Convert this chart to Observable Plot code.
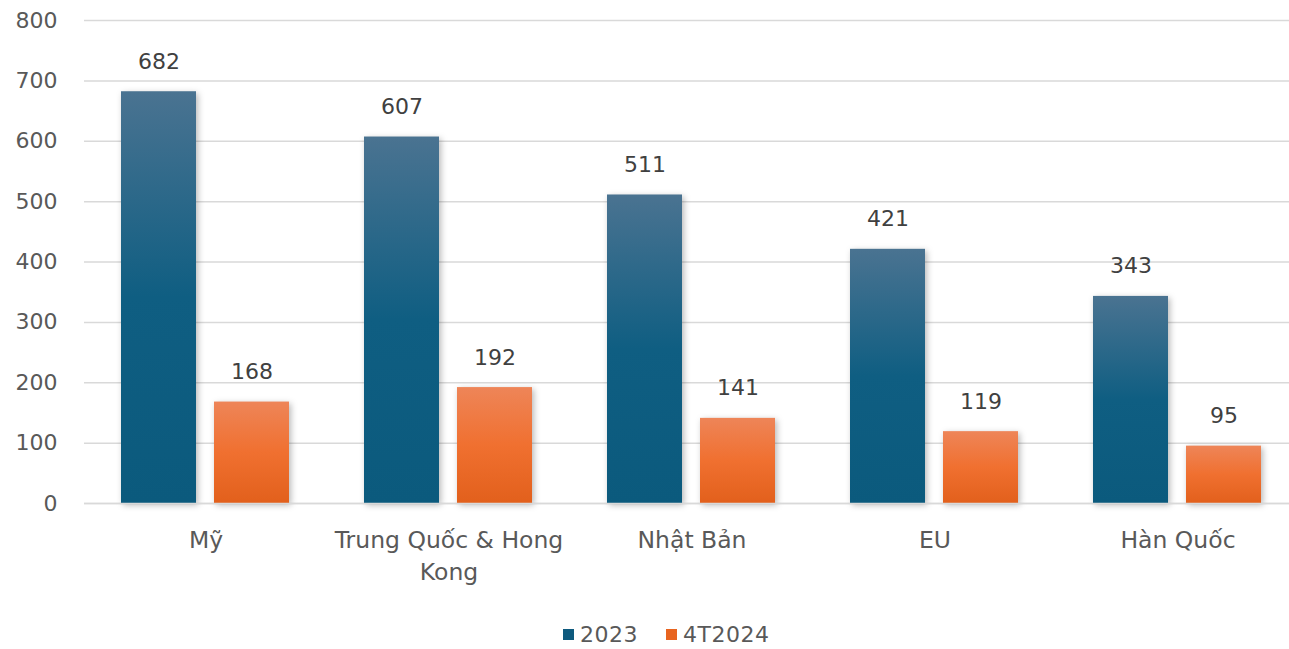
<!DOCTYPE html>
<html><head><meta charset="utf-8">
<script src="https://cdn.jsdelivr.net/npm/d3@7"></script>
<script src="https://cdn.jsdelivr.net/npm/@observablehq/plot@0.6"></script>
<style>
body{margin:0;background:#fff;font-family:"DejaVu Sans",sans-serif}
#legend{height:44px;display:flex;align-items:center;padding-left:563px;padding-top:14px;box-sizing:border-box;font-size:22px;color:#595959}
#legend span.sw{display:inline-block;width:11px;height:11px;margin-right:6px}
#legend span.item{display:inline-flex;align-items:center;letter-spacing:0.5px}
g[aria-label="bar"] rect{filter:drop-shadow(2px 2px 3px rgba(0,0,0,0.28))}
</style>
</head><body><div id="chart"></div><div id="legend"></div>
<script>
const categories = ["Mỹ","Trung Quốc & Hong Kong","Nhật Bản","EU","Hàn Quốc"];
const categoryLabels = ["Mỹ","Trung Quốc & Hong\nKong","Nhật Bản","EU","Hàn Quốc"];
const series = ["2023","4T2024"];
const values2023 = [682,607,511,421,343];
const values4T2024 = [168,192,141,119,95];
const yTicks = [0,100,200,300,400,500,600,700,800];
const seriesColors = ["#0e5a7e","#e8641f"];

const data = categories.flatMap((c,i)=>[
  {category:c, series:series[0], value:values2023[i]},
  {category:c, series:series[1], value:values4T2024[i]}
]);

const defs = () => {
  const d = d3.create("svg:defs");
  const g1 = d.append("linearGradient").attr("id","gBlue").attr("x1",0).attr("y1",0).attr("x2",0).attr("y2",1);
  g1.append("stop").attr("offset","0%").attr("stop-color","#4a7391");
  g1.append("stop").attr("offset","50%").attr("stop-color","#0f5e82");
  g1.append("stop").attr("offset","100%").attr("stop-color","#0b5a7d");
  const g2 = d.append("linearGradient").attr("id","gOrange").attr("x1",0).attr("y1",0).attr("x2",0).attr("y2",1);
  g2.append("stop").attr("offset","0%").attr("stop-color","#ee8558");
  g2.append("stop").attr("offset","50%").attr("stop-color","#f07030");
  g2.append("stop").attr("offset","100%").attr("stop-color","#e2601c");
  return d.node();
};

const chart = Plot.plot({
  width:1289, height:605,
  marginLeft:84, marginRight:4, marginTop:20, marginBottom:102,
  style:{fontFamily:"DejaVu Sans, sans-serif", fontSize:"22px", color:"#595959", background:"#fff"},
  fx:{domain:categories, padding:0, label:null, range:[84,1299]},
  x:{domain:series, paddingInner:0.1935, paddingOuter:0.403, axis:null},
  y:{domain:[0,800], label:null},
  marks:[
    defs,
    Plot.gridY(yTicks, {stroke:"#d9d9d9", strokeOpacity:1, strokeWidth:1.5}),
    Plot.barY(data.filter(d=>d.series===series[0]), {fx:"category", x:"series", y:"value", fill:"url(#gBlue)"}),
    Plot.barY(data.filter(d=>d.series===series[1]), {fx:"category", x:"series", y:"value", fill:"url(#gOrange)"}),
    Plot.ruleY([0], {stroke:"#d9d9d9", strokeWidth:1.5}),
    Plot.text(data, {fx:"category", x:"series", y:"value", text:d=>String(d.value), dy:-30, fill:"#404040", fontSize:22}),
    Plot.axisY(yTicks, {tickSize:0, tickPadding:27, fontSize:22, fill:"#595959", label:null}),
    Plot.axisFx({anchor:"bottom", tickSize:0, tickPadding:22, fontSize:23.5, lineHeight:1.36, fill:"#595959", label:null,
      tickFormat:d=>categoryLabels[categories.indexOf(d)]})
  ]
});
document.getElementById("chart").append(chart);

const legend = document.getElementById("legend");
series.forEach((s,i)=>{
  const item = document.createElement("span"); item.className="item";
  item.style.marginRight = i===0 ? "28px" : "0";
  const sw = document.createElement("span"); sw.className="sw"; sw.style.background=seriesColors[i];
  item.append(sw, document.createTextNode(s));
  legend.append(item);
});
</script>
</body></html>
